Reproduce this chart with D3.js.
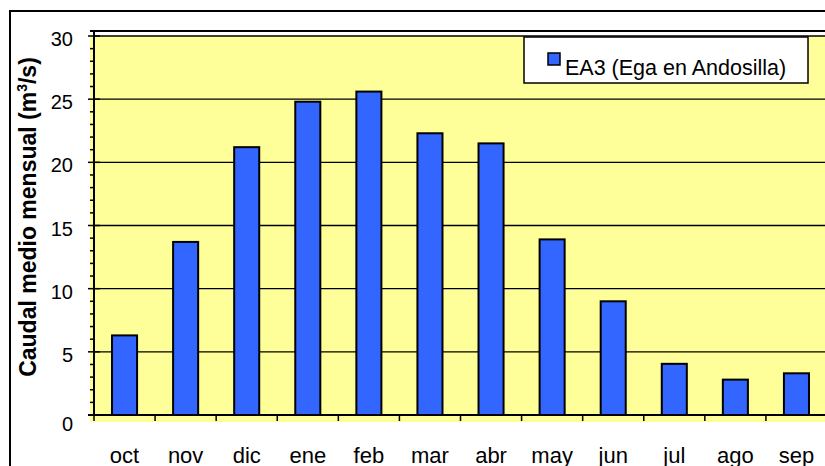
<!DOCTYPE html>
<html>
<head>
<meta charset="utf-8">
<script src="https://cdn.jsdelivr.net/npm/d3@7"></script>
<style>
  body { margin: 0; background: #fff; }
  svg text { font-family: "Liberation Sans", Arial, sans-serif; fill: #000; }
</style>
</head>
<body>
<svg id="chart" width="825" height="466"></svg>
<script>
var meses = ["oct","nov","dic","ene","feb","mar","abr","may","jun","jul","ago","sep"];
var caudal = [6.3, 13.7, 21.2, 24.8, 25.6, 22.3, 21.5, 13.9, 9.0, 4.05, 2.8, 3.3];
var yTicks = [0, 5, 10, 15, 20, 25, 30];
var serie = "EA3 (Ega en Andosilla)";

var svg = d3.select("#chart");

// marco exterior del gráfico
svg.append("rect")
  .attr("x", 10).attr("y", 11)
  .attr("width", 840).attr("height", 480)
  .attr("fill", "#fff").attr("stroke", "#000").attr("stroke-width", 2);

var plotLeft = 94, plotRight = 827, plotBottom = 415, plotTop = 36;

var x = d3.scaleBand().domain(meses).range([plotLeft, plotRight])
  .paddingInner(0.59).paddingOuter(0.295);
var y = d3.scaleLinear().domain([0, 30]).range([plotBottom, plotTop]);

// fondo amarillo del área de trazado
svg.append("rect")
  .attr("x", plotLeft - 4).attr("y", y(30))
  .attr("width", 830 - plotLeft).attr("height", plotBottom + 7 - y(30))
  .attr("fill", "#FFFF99");

// línea superior del área de trazado
svg.append("line")
  .attr("x1", plotLeft - 4).attr("x2", 830)
  .attr("y1", 31).attr("y2", 31)
  .attr("stroke", "#000").attr("stroke-width", 2);

// rejilla
svg.selectAll(".grid")
  .data(yTicks.filter(function(d){ return d > 0; }))
  .enter().append("line")
  .attr("class", "grid")
  .attr("x1", plotLeft).attr("x2", 830)
  .attr("y1", function(d){ return y(d); })
  .attr("y2", function(d){ return y(d); })
  .attr("stroke", "#000").attr("stroke-width", 1.3);

// barras
svg.selectAll(".bar")
  .data(caudal)
  .enter().append("rect")
  .attr("class", "bar")
  .attr("x", function(d, i){ return x(meses[i]); })
  .attr("y", function(d){ return y(d); })
  .attr("width", x.bandwidth())
  .attr("height", function(d){ return plotBottom - y(d); })
  .attr("fill", "#3366FF")
  .attr("stroke", "#000").attr("stroke-width", 2);

// eje Y
var yAxis = svg.append("g");
yAxis.append("line")
  .attr("x1", plotLeft).attr("x2", plotLeft)
  .attr("y1", 31).attr("y2", plotBottom)
  .attr("stroke", "#000").attr("stroke-width", 2);

yAxis.selectAll(".minor")
  .data(d3.range(0, 31))
  .enter().append("line")
  .attr("x1", function(d){ return d % 5 == 0 ? plotLeft - 6 : plotLeft - 4; })
  .attr("x2", function(d){ return d % 5 == 0 ? plotLeft + 6 : plotLeft; })
  .attr("y1", function(d){ return y(d); })
  .attr("y2", function(d){ return y(d); })
  .attr("stroke", "#000").attr("stroke-width", 1.5);

yAxis.selectAll(".ylab")
  .data(yTicks)
  .enter().append("text")
  .attr("x", 73)
  .attr("y", function(d){ return y(d) + (d == 0 ? 16 : 10); })
  .attr("text-anchor", "end")
  .style("font-size", "20px")
  .text(function(d){ return d; });

// eje X
var xAxis = svg.append("g");
xAxis.append("line")
  .attr("x1", plotLeft - 6).attr("x2", 830)
  .attr("y1", plotBottom).attr("y2", plotBottom)
  .attr("stroke", "#000").attr("stroke-width", 2);

xAxis.selectAll(".xt")
  .data(d3.range(0, meses.length + 1))
  .enter().append("line")
  .attr("x1", function(d){ return plotLeft + d * x.step(); })
  .attr("x2", function(d){ return plotLeft + d * x.step(); })
  .attr("y1", plotBottom).attr("y2", plotBottom + 6)
  .attr("stroke", "#000").attr("stroke-width", 1.5);

xAxis.selectAll(".xlab")
  .data(meses)
  .enter().append("text")
  .attr("x", function(d){ return x(d) + x.bandwidth() / 2; })
  .attr("y", 463)
  .attr("text-anchor", "middle")
  .style("font-size", "22px")
  .text(function(d){ return d; });

// título del eje Y
var yt = svg.append("text")
  .attr("transform", "translate(36,217) rotate(-90)")
  .attr("text-anchor", "middle")
  .style("font-size", "23px")
  .style("font-weight", "bold");
yt.append("tspan").text("Caudal medio mensual (m");
yt.append("tspan").attr("dy", -9).style("font-size", "14px").text("3");
yt.append("tspan").attr("dy", 9).text("/s)");

// leyenda
var lg = svg.append("g");
lg.append("rect")
  .attr("x", 524).attr("y", 37)
  .attr("width", 284).attr("height", 46)
  .attr("fill", "#fff").attr("stroke", "#000").attr("stroke-width", 1.5);
lg.append("rect")
  .attr("x", 548).attr("y", 53)
  .attr("width", 12).attr("height", 12)
  .attr("fill", "#3366FF").attr("stroke", "#000").attr("stroke-width", 1.5);
lg.append("text")
  .attr("x", 565).attr("y", 75)
  .style("font-size", "21.5px")
  .text(serie);
</script>
</body>
</html>
